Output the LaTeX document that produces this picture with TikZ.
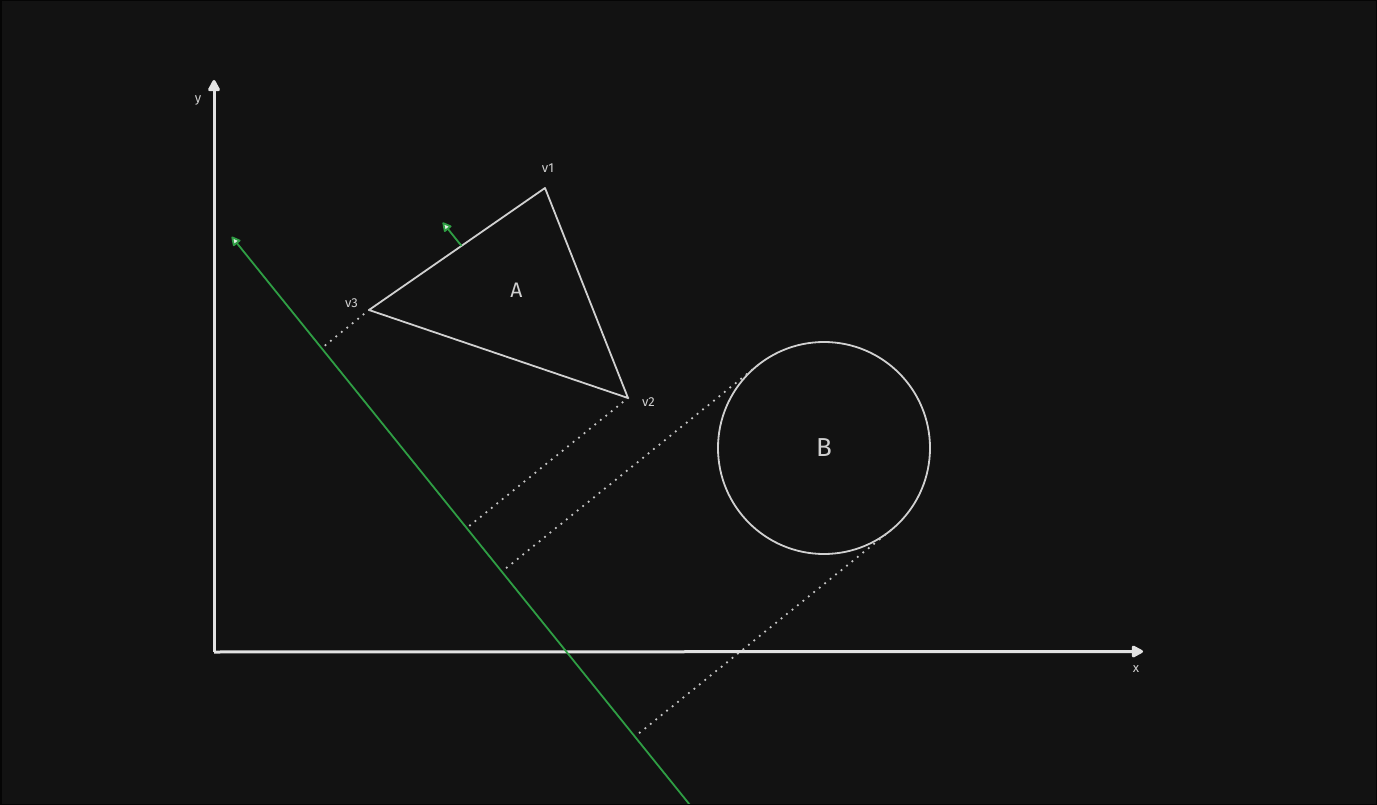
\documentclass[tikz,border=0pt]{standalone}
\usepackage{fontspec}
\setmainfont{Fira Sans}
\usetikzlibrary{arrows.meta,calc}
\definecolor{bg}{HTML}{121212}
\definecolor{frame}{HTML}{050505}
\definecolor{axiscol}{HTML}{E2E2E2}
\definecolor{shapecol}{HTML}{D0D0D0}
\definecolor{dotcol}{HTML}{C4C4C4}
\definecolor{greencol}{HTML}{2F9E44}
\definecolor{tipfill}{HTML}{E4EEE6}
\definecolor{txtcol}{HTML}{CFCFCF}
\tikzset{
  axisline/.style={draw=axiscol, line width=3pt, -{Triangle[length=13pt,width=13pt,round]}},
  shapeline/.style={draw=shapecol, line width=1.8pt, line join=round},
  dotline/.style={draw=dotcol, line width=2.5pt, line cap=round, dash pattern=on 0pt off 7pt},
  greenarrow/.style={draw=greencol, line width=1.8pt, -{Triangle[length=10pt,width=10pt,fill=tipfill,round]}},
  lbl/.style={text=txtcol, font=\fontsize{13}{15}\selectfont, inner sep=0pt},
  biglbl/.style={text=txtcol, inner sep=0pt}
}
\begin{document}
\begin{tikzpicture}[x=1pt,y=-1pt]
\useasboundingbox (0,0) rectangle (1377,805);
\fill[bg] (0,0) rectangle (1377,805);
\draw[frame, line width=1.5pt] (0.75,0.75) rectangle (1376.25,804.25);
\clip (1.5,1.5) rectangle (1375.5,803.5);

% axes
\coordinate (O) at (214,652);
\coordinate (Ytip) at (214,80);
\coordinate (Xtip) at (1143,651.5);
\draw[axisline] (O) -- (Ytip);
\draw[axisline] (O) -- (Xtip);
\node[lbl] (ylab) at (198,100) {y};
\node[lbl] (xlab) at (1136,669) {x};

% triangle A
\coordinate (v1) at (545,188);
\coordinate (v2) at (628,398);
\coordinate (v3) at (369,310);
\draw[shapeline] (v1) -- (v2) -- (v3) -- cycle;
\node[lbl] (lv1) at (548,168) {v1};
\node[lbl] (lv2) at (648.5,402.5) {v2};
\node[lbl] (lv3) at (351.5,303) {v3};
\node[biglbl, font=\fontsize{21}{24}\selectfont] (A) at (516.5,290) {A};

% circle B
\node[circle, draw=shapecol, line width=1.8pt, minimum size=212pt, inner sep=0pt,
      text=txtcol, font=\fontsize{26}{30}\selectfont] (B) at (824,448) {B};
\coordinate (T1) at ($(B.center)+(-66.5,-82.5)$);
\coordinate (T2) at ($(B.center)+(66.5,82.5)$);

% green separating axis
\coordinate (Gtip) at (231.7,236.7);
\coordinate (Gend) at (700,817.4);
\draw[greenarrow] (Gend) -- (Gtip);

% normal of edge v3-v1
\coordinate (Nstart) at ($(v3)!0.5256!(v1)$);
\coordinate (Ntip) at ($(Nstart)+(-18.8,-23.4)$);
\draw[greenarrow] (Nstart) -- (Ntip);

% projections
\coordinate (P3) at ($(Gtip)!(v3)!(Gend)$);
\coordinate (P2) at ($(Gtip)!(v2)!(Gend)$);
\coordinate (PT1) at ($(Gtip)!(T1)!(Gend)$);
\coordinate (PT2) at ($(Gtip)!(T2)!(Gend)$);
\draw[dotline] (v3) -- (P3);
\draw[dotline] (v2) -- (P2);
\draw[dotline] (T1) -- (PT1);
\draw[dotline] (T2) -- (PT2);
\end{tikzpicture}
\end{document}
